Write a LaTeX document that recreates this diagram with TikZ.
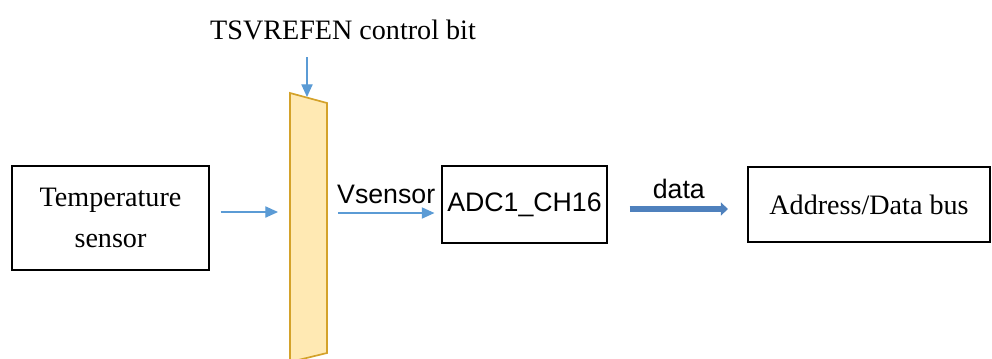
\documentclass[tikz,border=0pt]{standalone}
\usepackage{fontspec}
\setmainfont{Liberation Serif}
\setsansfont{Liberation Sans}
\usetikzlibrary{arrows.meta}
\definecolor{lineblue}{HTML}{5B9BD5}
\definecolor{busblue}{HTML}{4F81BD}
\definecolor{muxfill}{HTML}{FFE9B3}
\definecolor{muxline}{HTML}{D4A22A}
\tikzset{
  block/.style={draw, thick, inner sep=0pt, align=center, font=\fontsize{20}{28}\selectfont},
  sig/.style={lineblue, line width=0.9pt, -{Triangle[length=9pt,width=8pt]}},
  bus/.style={busblue, line width=4.2pt, -{Triangle[length=5pt,width=9pt]}},
  lbl/.style={inner sep=0pt, text=black, font=\fontsize{20}{24}\selectfont},
  sflbl/.style={lbl, font=\sffamily\fontsize{19}{23}\selectfont}
}
\begin{document}
\begin{tikzpicture}[x=0.025cm, y=-0.025cm]
\useasboundingbox (0,0) rectangle (992,358);
% blocchi
\node[block, minimum width=4.925cm, minimum height=2.6cm] (temp) at (110.5,218) {\raisebox{-6pt}{\parbox{4cm}{\centering Temperature\\[1pt] sensor}}};
\node[block, font=\sffamily\fontsize{19}{23}\selectfont, minimum width=4.125cm, minimum height=1.925cm] (adc) at (524.5,204.5) {ADC1\_CH16};
\node[block, minimum width=6.05cm, minimum height=1.875cm] (bus) at (869,204.5) {Address/Data bus};
% mux
\filldraw[fill=muxfill, draw=muxline, line width=1.2pt] (290,93) -- (327,103) -- (327,353) -- (290,362) -- cycle;
\coordinate (muxin) at (290,212);
\coordinate (muxout) at (327,213);
\coordinate (muxtop) at (307,97);
\coordinate (busin) at (748,209);
% controllo
\node[lbl] (ctrl) at (343,30) {TSVREFEN control bit};
\draw[sig] (ctrl.south -| muxtop) ++(0,17) -- (muxtop);
% segnali
\draw[sig] (temp.east |- muxin) ++(11,0) -- ([xshift=-0.3cm]muxin);
\draw[sig] (muxout) ++(11,0) -- ([xshift=-0.175cm]adc.west |- muxout) node[sflbl, above, pos=0.5, yshift=6pt] (vs) {Vsensor};
\draw[bus] (adc.east |- busin) ++(22,0) -- ([xshift=-0.5cm]busin) node[sflbl, above, pos=0.5, yshift=5pt] (dt) {data};
\end{tikzpicture}
\end{document}
